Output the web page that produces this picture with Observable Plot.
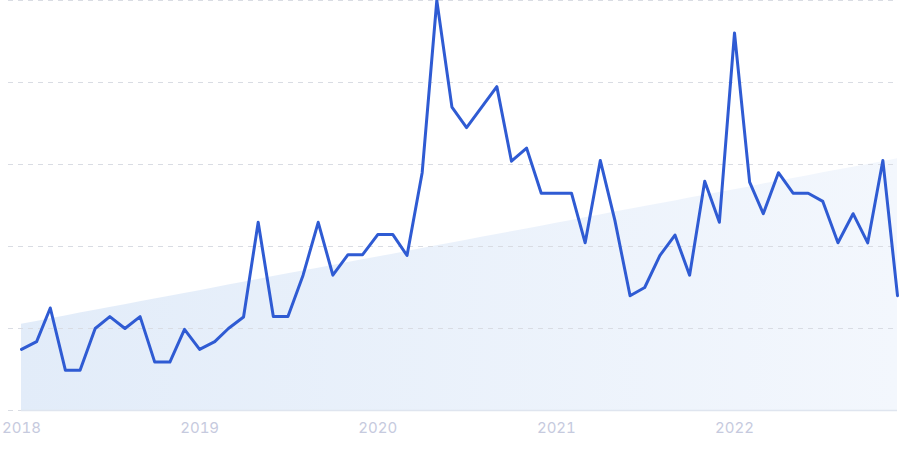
<!DOCTYPE html>
<html>
<head>
<meta charset="utf-8">
<script src="https://cdn.jsdelivr.net/npm/d3@7"></script>
<script src="https://cdn.jsdelivr.net/npm/@observablehq/plot@0.6"></script>
<style>
  html, body { margin: 0; padding: 0; background: #ffffff; }
  #chart { width: 900px; height: 450px; }
</style>
</head>
<body>
<div id="chart"></div>
<script>
// Monthly interest, Jan 2018 – Dec 2022
const startMonth = "2018-01";
const values = [
  14.9, 16.8, 25, 9.8, 9.8, 20, 22.9, 20, 22.9, 11.8, 11.8, 19.8,
  14.9, 16.8, 20, 22.8, 45.9, 22.9, 22.9, 33, 45.9, 33, 38, 38,
  42.9, 42.9, 37.8, 58, 100, 74, 69, 74, 79, 60.8, 64, 53,
  53, 53, 40.9, 61, 46.3, 28, 30, 37.8, 42.8, 33, 55.9, 45.9,
  92.1, 55.7, 48, 58, 53, 53, 51, 40.9, 48, 40.9, 61, 28
];
const yearTicks = ["2018", "2019", "2020", "2021", "2022"];
const gridValues = [0, 20, 40, 60, 80, 100];

const parseMonth = d3.utcParse("%Y-%m");
const start = parseMonth(startMonth);
const data = values.map((v, i) => ({ date: d3.utcMonth.offset(start, i), value: v, i }));

// linear trend (least squares) over the month index
const n = data.length;
const mx = d3.mean(data, d => d.i), my = d3.mean(data, d => d.value);
const slope = d3.sum(data, d => (d.i - mx) * (d.value - my)) / d3.sum(data, d => (d.i - mx) ** 2);
const trend = data.map(d => ({ date: d.date, trend: my + slope * (d.i - mx) }));

const tickDates = yearTicks.map(y => d3.utcParse("%Y")(y));

const svg = Plot.plot({
  width: 900,
  height: 450,
  marginTop: 0,
  marginBottom: 40,
  marginLeft: 21,
  marginRight: 3,
  style: { fontFamily: "Inter, 'Noto Sans', sans-serif", background: "transparent", overflow: "visible" },
  x: { type: "utc", domain: [data[0].date, data[n - 1].date] },
  y: { domain: [0, 100], axis: null },
  marks: [
    Plot.areaY(trend, { x: "date", y: "trend", fill: "url(#trendGrad)" }),
    Plot.ruleY(gridValues, { stroke: "#d9dce3", strokeDasharray: "5,5", strokeWidth: 1, insetLeft: -13, insetRight: 4 }),
    Plot.ruleY([0], { stroke: "#dfe5ef", strokeWidth: 1.5 }),
    Plot.lineY(data, { x: "date", y: "value", stroke: "#2f5bd3", strokeWidth: 3, strokeLinejoin: "round", strokeLinecap: "round" }),
    Plot.axisX(tickDates, { tickSize: 0, tickPadding: 12, tickFormat: d3.utcFormat("%Y"), fontSize: 15, color: "#c6cade", fill: "#c6cade", label: null })
  ]
});

const defs = d3.select(svg).insert("defs", ":first-child");
const grad = defs.append("linearGradient").attr("id", "trendGrad")
  .attr("x1", "0").attr("y1", "0").attr("x2", "1").attr("y2", "0");
grad.append("stop").attr("offset", "0%").attr("stop-color", "#e2ecf9");
grad.append("stop").attr("offset", "100%").attr("stop-color", "#f3f7fd");

document.getElementById("chart").appendChild(svg);
</script>
</body>
</html>
